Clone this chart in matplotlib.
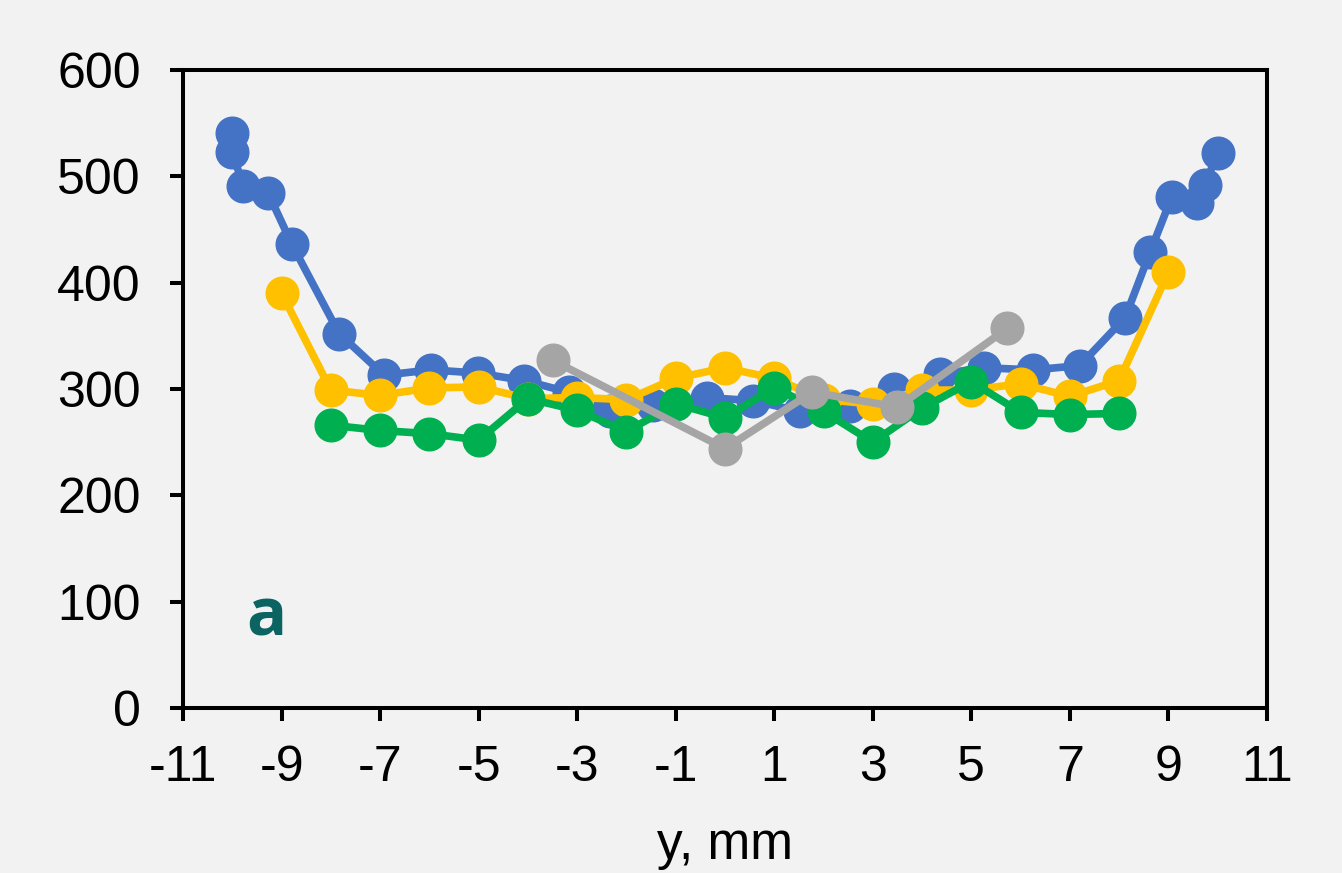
import matplotlib.pyplot as plt

# data
blue_x = [-10.0, -10.0, -9.78, -9.27, -8.79, -7.83, -6.92, -5.97, -5.02, -4.08,
          -3.17, -2.33, -1.46, -0.37, 0.57, 1.52, 2.54, 3.43, 4.36, 5.25,
          6.25, 7.2, 8.12, 8.63, 9.07, 9.58, 9.74, 10.0]
blue_y = [541, 523, 491, 484, 436, 352, 313, 318, 315, 308,
          297, 279, 285, 292, 289, 279, 284, 300, 314, 320,
          318, 322, 367, 429, 481, 475, 492, 522]

yellow_x = [-9, -8, -7, -6, -5, -4, -3, -2, -1, 0, 1, 2, 3, 4, 5, 6, 7, 8, 9]
yellow_y = [390, 299, 294, 301, 302, 291, 292, 290, 310, 320, 310, 290,
            286, 299, 299, 305, 293, 308, 410]

green_x = [-8, -7, -6, -5, -4, -3, -2, -1, 0, 1, 2, 3, 4, 5, 6, 7, 8]
green_y = [266, 261, 258, 252, 291, 280, 260, 286, 273, 301, 279, 250,
           282, 307, 278, 276, 277]

gray_x = [-3.5, 0.0, 1.77, 3.5, 5.73]
gray_y = [327, 244, 297, 283, 357]

x_ticks = list(range(-11, 12, 2))
y_ticks = list(range(0, 601, 100))

bg = '#F2F2F2'
plt.rcParams['font.family'] = ['Liberation Sans', 'DejaVu Sans']
plt.rcParams['axes.unicode_minus'] = False

fig = plt.figure(figsize=(13.42, 8.73), dpi=100, facecolor=bg)
ax = fig.add_axes([0.1364, 0.189, 0.8077, 0.7308])
ax.set_facecolor(bg)

series = [(blue_x, blue_y, '#4472C4'),
          (yellow_x, yellow_y, '#FFC000'),
          (green_x, green_y, '#00B050'),
          (gray_x, gray_y, '#A5A5A5')]
for i, (xs, ys, c) in enumerate(series):
    ax.plot(xs, ys, color=c, lw=5.5, marker='o', ms=23.5, mec=c, mfc=c,
            zorder=3 + i, clip_on=False)

ax.set_xlim(-11, 11)
ax.set_ylim(0, 600)
ax.set_xticks(x_ticks)
ax.set_yticks(y_ticks)
ax.tick_params(direction='out', length=9.5, width=2.9, labelsize=36,
               colors='black')
ax.tick_params(axis='y', pad=21)
ax.tick_params(axis='x', pad=17)
for s in ax.spines.values():
    s.set_linewidth(2.9)
    s.set_color('black')

ax.set_xlabel('y, mm', fontsize=37, labelpad=22)

ax.text(-9.3, 85, 'a', fontsize=48, fontweight='bold', color='#0B6461',
        family=['Open Sans', 'DejaVu Sans'], ha='center', va='center')

fig.savefig('out.png', dpi=100, facecolor=bg)
